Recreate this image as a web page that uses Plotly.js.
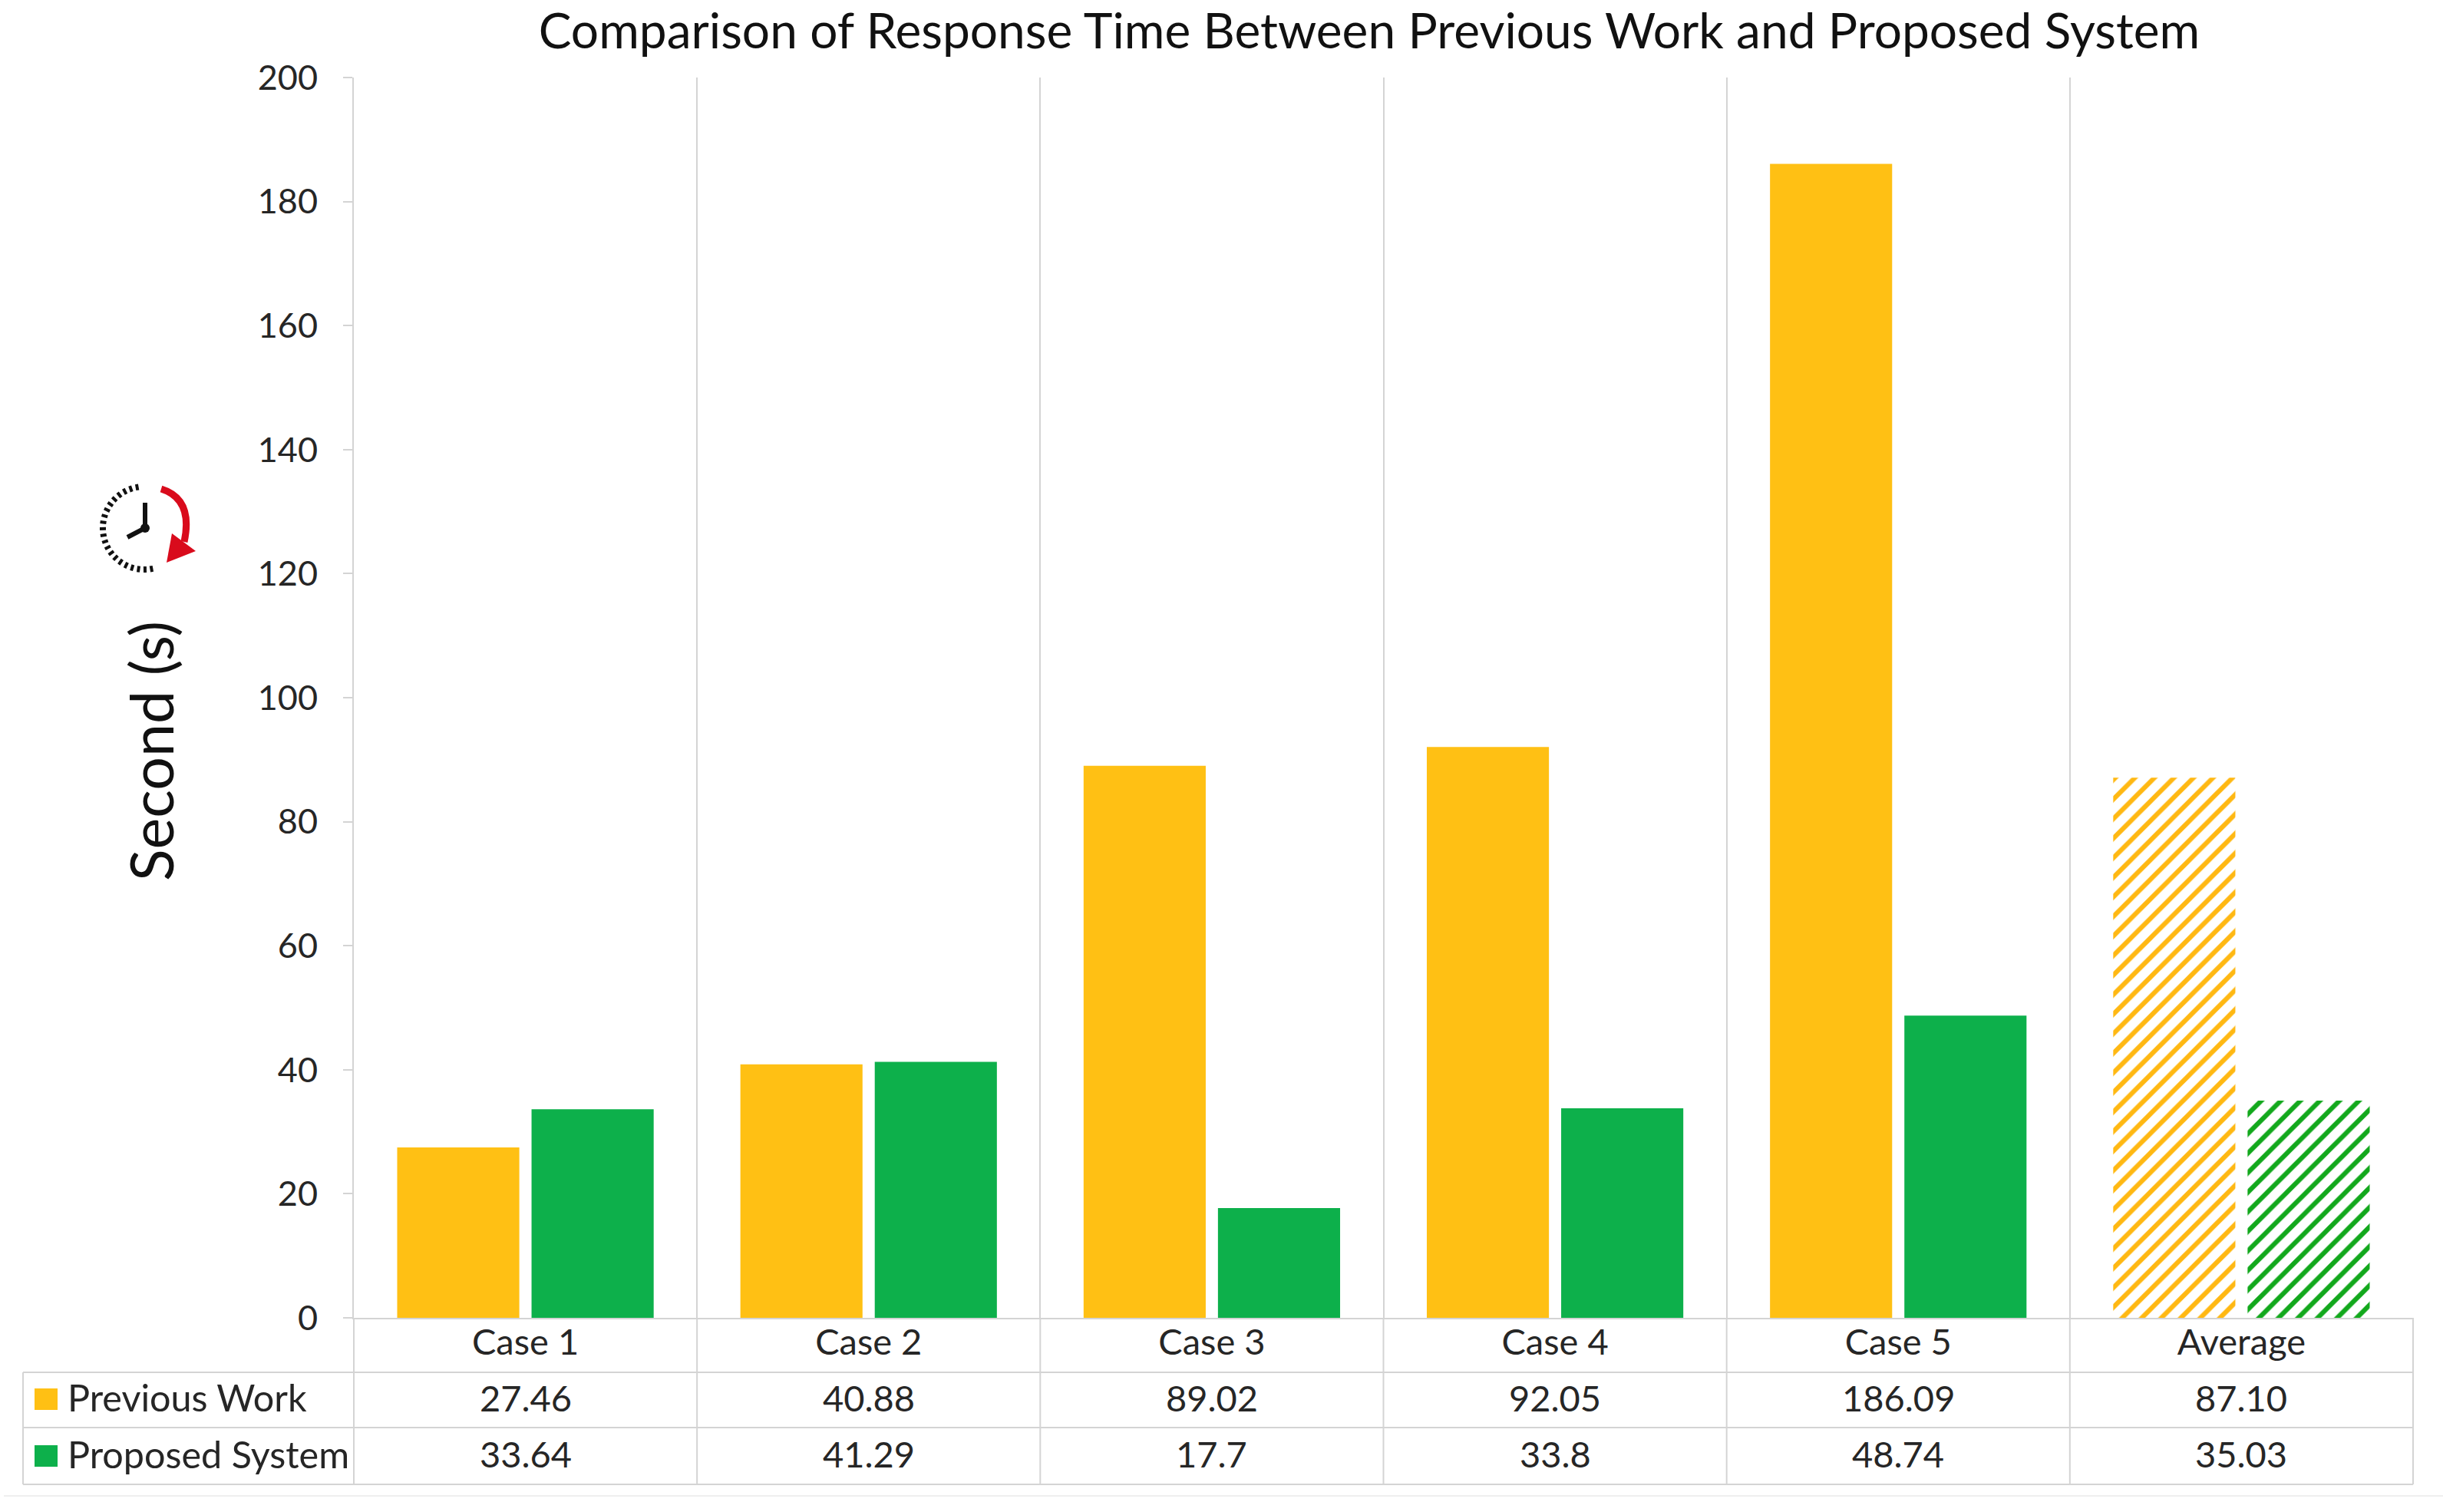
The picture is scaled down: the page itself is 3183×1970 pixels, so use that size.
<!DOCTYPE html>
<html><head><meta charset="utf-8">
<script src="https://cdn.plot.ly/plotly-3.0.1.min.js"></script>
<style>html,body{margin:0;padding:0;background:#fff}</style></head>
<body><div id="chart" style="width:3183px;height:1970px"></div>
<script>
const categories = ['Case 1','Case 2','Case 3','Case 4','Case 5','Average'];
const seriesNames = ['Previous Work','Proposed System'];
const previousWork = [27.46,40.88,89.02,92.05,186.09,87.10];
const proposedSystem = [33.64,41.29,17.7,33.8,48.74,35.03];
const previousLabels = ['27.46','40.88','89.02','92.05','186.09','87.10'];
const proposedLabels = ['33.64','41.29','17.7','33.8','48.74','35.03'];
const patternShapes = ['','','','','','/'];
const yTicks = [0,20,40,60,80,100,120,140,160,180,200];

const W=3183,H=1970,L=461,R=3144,T=101,B=1717;
const FONT='Lato, sans-serif', INK='#262626', GRID='#d4d4d4';
const YEL='#FFC014', GRN='#0DB04B', YELH='#FFB812', GRNH='#12A81C';
const px=x=>(x-L)/(R-L), py=y=>(B-y)/(B-T);

const traces=[
 {type:'bar',name:seriesNames[0],x:categories,y:previousWork,
  marker:{color:YEL,line:{width:0},pattern:{shape:patternShapes,fgcolor:YELH,bgcolor:'#fff',size:18,solidity:0.34}}},
 {type:'bar',name:seriesNames[1],x:categories,y:proposedSystem,
  marker:{color:GRN,line:{width:0},pattern:{shape:patternShapes,fgcolor:GRNH,bgcolor:'#fff',size:18,solidity:0.34}}}
];

const line=(x0,y0,x1,y1,color,width)=>({type:'line',xref:'paper',yref:'paper',x0:px(x0),y0:py(y0),x1:px(x1),y1:py(y1),line:{color:color||GRID,width:width||2},layer:'below'});
const shapes=[];
[1788,1860,1934].forEach(y=>shapes.push(line(30,y,R,y)));
shapes.push(line(30,1788,30,1934));
categories.concat(['']).forEach((c,i)=>{const x=L+(R-L)*i/categories.length;shapes.push(line(x,B,x,1934));});
shapes.push(line(5,1949,W,1949,'#efefef',2));
const rect=(x0,y0,x1,y1,c)=>({type:'rect',xref:'paper',yref:'paper',x0:px(x0),y0:py(y0),x1:px(x1),y1:py(y1),fillcolor:c,line:{width:0}});
shapes.push(rect(45,1809,75,1837,YEL),rect(45,1883,75,1911,GRN));

// stopwatch icon
const cx=188,cy=688,r=55;
for(let a=10;a<=190;a+=9){const t=a*Math.PI/180,s=Math.sin(t),c=Math.cos(t);
 shapes.push(line(cx-s*(r-5),cy-c*(r-5),cx-s*(r+3),cy-c*(r+3),'#111',4));}
shapes.push(line(189,688,189,655,'#111',6),line(189,688,166,700,'#111',6));
shapes.push({type:'circle',xref:'paper',yref:'paper',x0:px(183),x1:px(195),y0:py(682),y1:py(694),fillcolor:'#111',line:{width:0}});
const P=(x,y)=>px(x).toFixed(5)+','+py(y).toFixed(5);
shapes.push({type:'path',xref:'paper',yref:'paper',path:'M'+P(210,637)+' Q'+P(252,650)+' '+P(240,706),line:{color:'#D90B1C',width:9}});
shapes.push({type:'path',xref:'paper',yref:'paper',path:'M'+P(217,733)+' L'+P(224,695)+' L'+P(255,718)+' Z',fillcolor:'#D90B1C',line:{width:0}});

const note=(text,x,xref,y,size,anchor)=>({text,x,xref,y:py(y),yref:'paper',showarrow:false,xanchor:anchor||'center',yanchor:'middle',font:{family:FONT,size:size||47,color:INK}});
const annotations=[];
categories.forEach((c,i)=>{
 annotations.push(note(previousLabels[i],i,'x',1821));
 annotations.push(note(proposedLabels[i],i,'x',1894));
});
annotations.push(note(seriesNames[0],px(86),'paper',1820,48.5,'left'));
annotations.push(note(seriesNames[1],px(86),'paper',1894,48.5,'left'));
annotations.push(Object.assign(note('Second (s)',px(196),'paper',979,77),{textangle:-90,font:{family:FONT,size:77,color:'#111'}}));

Plotly.newPlot('chart',traces,{
 width:W,height:H,margin:{l:L,r:W-R,t:T,b:H-B,pad:0},
 paper_bgcolor:'#fff',plot_bgcolor:'#fff',showlegend:false,
 barmode:'group',bargap:0.217,bargroupgap:0.091,
 title:{text:'Comparison of Response Time Between Previous Work and Proposed System',
  font:{family:FONT,size:64,color:'#111'},x:1784/W,xanchor:'center',y:1-41/H,yanchor:'middle'},
 xaxis:{type:'category',tickson:'boundaries',categoryorder:'array',categoryarray:categories,
  showgrid:true,gridcolor:GRID,gridwidth:2,ticks:'',showline:true,linecolor:GRID,linewidth:2,
  tickfont:{family:FONT,size:47,color:INK},ticklabelstandoff:-10,fixedrange:true},
 yaxis:{range:[0,200],tickmode:'array',tickvals:yTicks,ticktext:yTicks.map(String),
  showgrid:false,zeroline:false,showline:true,linecolor:GRID,linewidth:2,ticks:'outside',ticklen:12,tickcolor:GRID,tickwidth:2,
  tickfont:{family:FONT,size:45,color:INK},ticklabelstandoff:24,fixedrange:true},
 shapes,annotations
},{displayModeBar:false,staticPlot:true});
</script></body></html>
